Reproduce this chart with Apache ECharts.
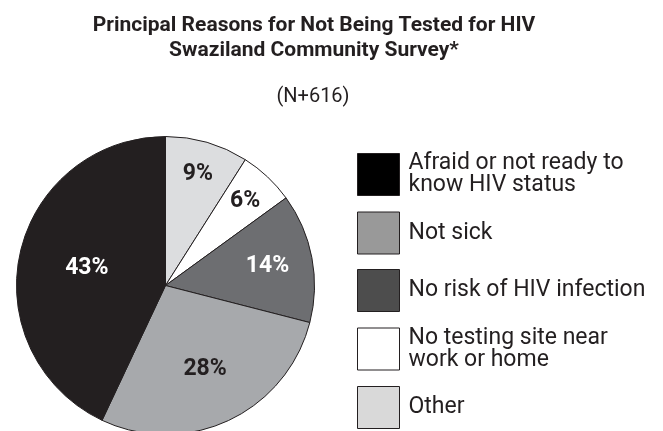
<!DOCTYPE html>
<html>
<head>
<meta charset="utf-8">
<script src="https://cdn.jsdelivr.net/npm/echarts@6/dist/echarts.min.js"></script>
<style>
  html, body { margin: 0; padding: 0; background: #fff; }
  #chart { width: 663px; height: 431px; }
</style>
</head>
<body>
<div id="chart"></div>
<script>
// Survey responses: reasons given for not being tested (percent of respondents)
const reasons = [
  'Other',
  'No testing site near\nwork or home',
  'No risk of HIV infection',
  'Not sick',
  'Afraid or not ready to\nknow HIV status'
];
const percents = [9, 6, 14, 28, 43];
const legendOrder = [4, 3, 2, 1, 0];

// Slice fills and the matching legend swatches
const sliceColors = ['#dcdddf', '#ffffff', '#6d6e71', '#a7a9ac', '#231f20'];
const swatchColors = ['#d9d9d9', '#ffffff', '#4d4d4d', '#999999', '#000000'];
const labelColors = ['#231f20', '#231f20', '#ffffff', '#231f20', '#ffffff'];
// How far out along the slice each label sits (fraction of radius)
const labelRadius = [0.75, 0.75, 0.67, 0.6, 0.52];

const FONT = 'Roboto, "DejaVu Sans", sans-serif';
const CX = 165.5, CY = 285.5, R = 149;

const chart = echarts.init(document.getElementById('chart'), null, { renderer: 'canvas' });

chart.setOption({
  animation: false,
  backgroundColor: '#ffffff',
  title: [
    {
      text: 'Principal Reasons for Not Being Tested for HIV\nSwaziland Community Survey*',
      left: 309, top: 8, textAlign: 'center',
      textStyle: { fontFamily: FONT, fontWeight: 'bold', fontSize: 21, lineHeight: 25, color: '#231f20' }
    },
    {
      text: '(N+616)',
      left: 308, top: 82, textAlign: 'center',
      textStyle: { fontFamily: FONT, fontWeight: 'normal', fontSize: 20, color: '#231f20' }
    }
  ],
  legend: {
    orient: 'vertical',
    left: 352, top: 147, height: 320,
    itemWidth: 42, itemHeight: 42, itemGap: 14.5,
    icon: 'rect',
    selectedMode: false,
    textStyle: { fontFamily: FONT, fontSize: 23, lineHeight: 22, color: '#231f20', padding: [0, 0, 0, 4] },
    data: legendOrder.map(i => ({
      name: reasons[i],
      itemStyle: { color: swatchColors[i], borderColor: '#231f20', borderWidth: 1 }
    }))
  },
  series: [{
    type: 'pie',
    center: [CX, CY],
    radius: R,
    startAngle: 90,
    clockwise: true,
    avoidLabelOverlap: false,
    silent: true,
    itemStyle: { borderColor: '#231f20', borderWidth: 1 },
    label: {
      position: 'inside',
      fontFamily: FONT, fontWeight: 'bold', fontSize: 23,
      formatter: p => p.value + '%'
    },
    labelLine: { show: false },
    labelLayout: function (params) {
      const r = params.labelRect;
      const lx = r.x + r.width / 2 - CX;
      const ly = r.y + r.height / 2 - CY;
      const f = labelRadius[params.dataIndex] / 0.5 - 1;
      return { dx: lx * f, dy: ly * f };
    },
    data: reasons.map((name, i) => ({
      name: name,
      value: percents[i],
      itemStyle: { color: sliceColors[i] },
      label: { color: labelColors[i] }
    }))
  }]
});
</script>
</body>
</html>
